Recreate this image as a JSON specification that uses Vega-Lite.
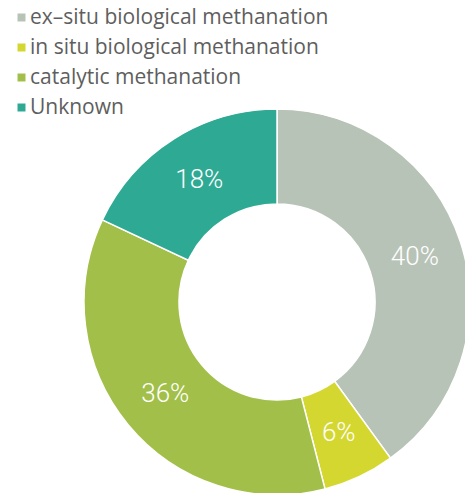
{
  "$schema": "https://vega.github.io/schema/vega-lite/v6.json",
  "autosize": "none",
  "padding": 0,
  "width": 554,
  "height": 604,
  "background": "white",
  "view": {"stroke": null},
  "data": {
    "values": [
      {"category": "ex–situ biological methanation", "share": 40, "label": "40%", "order": 1},
      {"category": "in situ biological methanation", "share": 6, "label": "6%", "order": 2},
      {"category": "catalytic methanation", "share": 36, "label": "36%", "order": 3},
      {"category": "Unknown", "share": 18, "label": "18%", "order": 4}
    ]
  },
  "encoding": {
    "theta": {"field": "share", "type": "quantitative", "stack": true},
    "order": {"field": "order", "type": "quantitative"}
  },
  "layer": [
    {
      "mark": {"type": "arc", "outerRadius": 193, "innerRadius": 98, "stroke": "white", "strokeWidth": 1.5},
      "encoding": {
        "color": {
          "field": "category",
          "type": "nominal",
          "scale": {
            "domain": ["ex–situ biological methanation", "in situ biological methanation", "catalytic methanation", "Unknown"],
            "range": ["#b8c3b7", "#d4d72f", "#a2c049", "#2eaa94"]
          },
          "legend": {
            "title": null,
            "orient": "none",
            "legendX": 11,
            "legendY": 7,
            "padding": 0,
            "symbolType": "square",
            "symbolSize": 64,
            "symbolStrokeWidth": 0,
            "labelFont": "Open Sans",
            "labelFontSize": 21,
            "labelColor": "#5e5e5e",
            "labelOffset": -2,
            "rowPadding": 8,
            "labelLimit": 400
          }
        }
      }
    },
    {
      "mark": {"type": "text", "radius": 145, "font": "Roboto", "fontWeight": 300, "fontSize": 26, "color": "white", "align": "center", "baseline": "middle"},
      "encoding": {
        "text": {"field": "label", "type": "nominal"}
      }
    }
  ]
}
